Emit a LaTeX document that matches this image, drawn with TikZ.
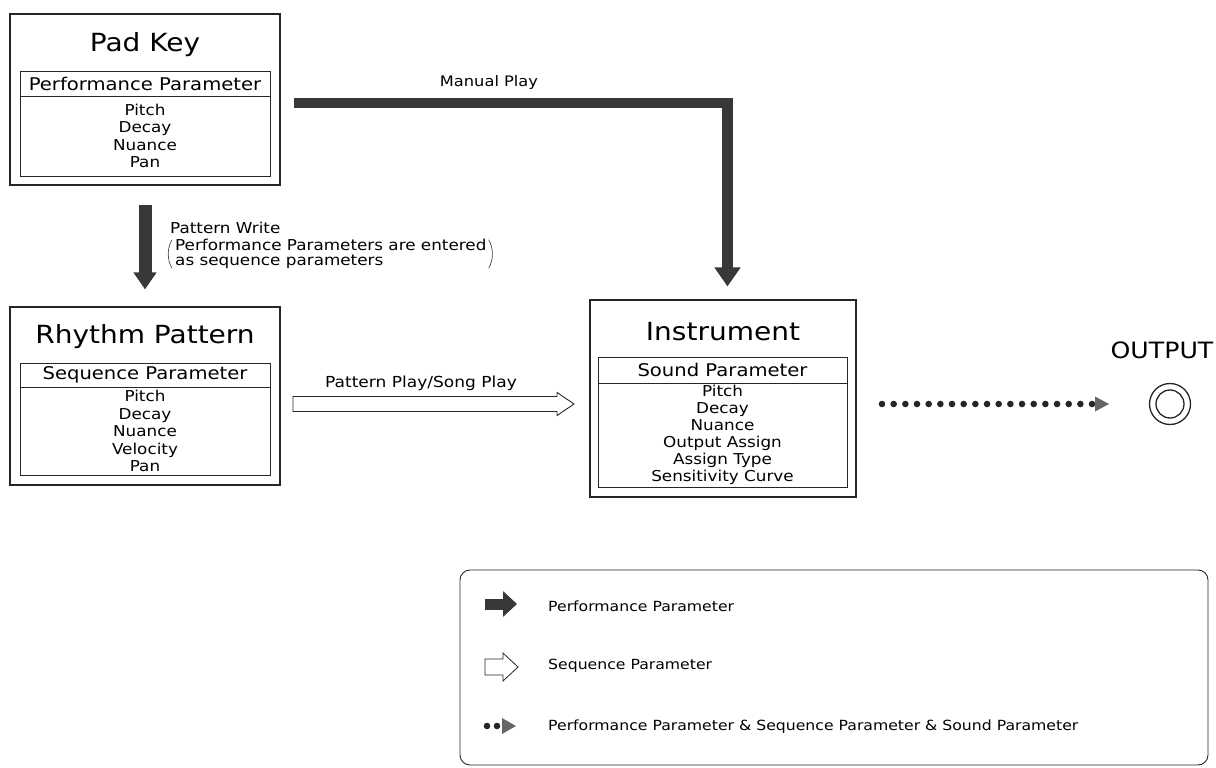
\documentclass[tikz,border=0pt]{standalone}
\usepackage{fontspec}
\setmainfont{DejaVu Sans}[FakeStretch=1.12]
\usetikzlibrary{arrows.meta}
\begin{document}
\begin{tikzpicture}[x=1pt,y=-1pt,
  outerbox/.style={draw=black!85, line width=1.1pt, inner sep=0pt},
  innerbox/.style={draw=black!85, line width=0.9pt, inner sep=0pt, minimum width=250pt},
  ttl/.style={font=\fontsize{25}{28}\selectfont, inner sep=0pt},
  hdr/.style={font=\fontsize{17.5}{20}\selectfont, inner sep=0pt},
  items/.style={font=\fontsize{15}{17.5}\selectfont, align=center, inner sep=0pt},
  lbl/.style={font=\fontsize{14.5}{16}\selectfont, inner sep=0pt},
  leg/.style={font=\fontsize{14}{16}\selectfont, inner sep=0pt, anchor=west},
  perfc/.style={black!78},
  hollow/.style={draw=black!85, line width=0.9pt, fill=white},
  dotc/.style={black!85},
  paren/.style={draw=black!80, line width=0.6pt}
]
\useasboundingbox (0,0) rectangle (1216,768);

% ---------- Pad Key ----------
\node[outerbox, minimum width=270pt, minimum height=171pt] (padkey) at (145,99.5) {};
\node[ttl] (padkeyT) at (145,45) {Pad Key};
\node[innerbox, minimum height=25pt] (padkeyH) at (145,83.5) {};
\node[hdr] (padkeyHT) at (padkeyH) {Performance Parameter};
\node[innerbox, minimum height=80pt] (padkeyB) at (145,136) {};
\node[items] (padkeyI) at (padkeyB) {Pitch\\Decay\\Nuance\\Pan};

% ---------- Rhythm Pattern ----------
\node[outerbox, minimum width=270pt, minimum height=178pt] (rhythm) at (145,396) {};
\node[ttl] (rhythmT) at (145,337) {Rhythm Pattern};
\node[innerbox, minimum height=24pt] (rhythmH) at (145,375) {};
\node[hdr] (rhythmHT) at (rhythmH) {Sequence Parameter};
\node[innerbox, minimum height=88pt] (rhythmB) at (145,431) {};
\node[items] (rhythmI) at (rhythmB) {Pitch\\Decay\\Nuance\\Velocity\\Pan};

% ---------- Instrument ----------
\node[outerbox, minimum width=266pt, minimum height=197pt] (inst) at (723,398.5) {};
\node[ttl] (instT) at (723,332) {Instrument};
\node[innerbox, minimum width=249pt, minimum height=26pt] (instH) at (722.5,370) {};
\node[hdr] (instHT) at (instH) {Sound Parameter};
\node[innerbox, minimum width=249pt, minimum height=104pt] (instB) at (722.5,435) {};
\node[items, font=\fontsize{15}{17}\selectfont] (instI) at (instB) {Pitch\\Decay\\Nuance\\Output Assign\\Assign Type\\Sensitivity Curve};

% ---------- Manual Play ----------
\coordinate (mpS) at (294,103);
\draw[perfc, line width=10.5pt, -{Triangle[length=19pt,width=25pt]}]
  (mpS) -| ([xshift=4.5pt,yshift=13pt]inst.north);
\node[lbl] (mplbl) at (489,82) {Manual Play};

% ---------- Pattern Write ----------
\draw[perfc, line width=13pt, -{Triangle[length=17pt,width=22pt]}]
  ([yshift=-19pt]padkey.south) -- ([yshift=17pt]rhythm.north);
\node[lbl, anchor=west, font=\fontsize{15}{16}\selectfont] (pwlbl) at (170,228) {Pattern Write};
\node[lbl, anchor=west, align=left, font=\fontsize{15}{15.5}\selectfont] (pwtxt) at (175,254)
  {Performance Parameters are entered\\as sequence parameters};
\draw[paren] ([xshift=-3pt,yshift=-1pt]pwtxt.north west) .. controls ([xshift=-8pt,yshift=-9pt]pwtxt.north west) and ([xshift=-8pt,yshift=9pt]pwtxt.south west) .. ([xshift=-3pt,yshift=1pt]pwtxt.south west);
\draw[paren] ([xshift=2pt,yshift=-1pt]pwtxt.north east) .. controls ([xshift=7pt,yshift=-9pt]pwtxt.north east) and ([xshift=7pt,yshift=9pt]pwtxt.south east) .. ([xshift=2pt,yshift=1pt]pwtxt.south east);

% ---------- Pattern Play / Song Play ----------
\coordinate (ppS) at (293,404);
\coordinate (ppE) at (574,404);
\draw[hollow] (ppS) ++(0,-7.5) -- ++(264,0) -- ++(0,-4) -- (ppE) -- ++(-17,11.5) -- ++(0,-4) -- ++(-264,0) -- cycle;
\node[lbl, font=\fontsize{15.2}{17}\selectfont] (pplbl) at (421,383) {Pattern Play/Song Play};

% ---------- Output ----------
\node[font=\fontsize{22.5}{26}\selectfont, inner sep=0pt] (outlbl) at (1162,350) {OUTPUT};
\node[circle, draw=black!85, line width=1.3pt, minimum size=41pt, inner sep=0pt] (outc) at (1170,404) {};
\node[circle, draw=black!85, line width=1.3pt, minimum size=28pt, inner sep=0pt] (outci) at (outc) {};
\coordinate (dS) at (882,404);
\coordinate (dE) at (1109,404);
\draw[dotc, line width=6.6pt, line cap=round, dash pattern=on 0pt off 11.67pt] (dS) -- ([xshift=-13pt]dE);
\fill[black!60] ([xshift=-14pt,yshift=7.5pt]dE) -- (dE) -- ([xshift=-14pt,yshift=-7.5pt]dE) -- cycle;

% ---------- Legend ----------
\node[draw=black!85, rounded corners=10pt, line width=0.9pt, minimum width=748pt, minimum height=195pt, inner sep=0pt] (legend) at (834,667.5) {};
\coordinate (l1a) at (485,604);
\coordinate (l1b) at (517,604);
\draw[perfc, line width=11pt, -{Triangle[length=14pt,width=25pt]}] (l1a) -- (l1b);
\node[leg] (leg1) at (548,606) {Performance Parameter};
\coordinate (l2a) at (485,667);
\coordinate (l2b) at (518,667);
\draw[hollow, line width=0.8pt] (l2a) ++(0,-8) -- ++(18,0) -- ++(0,-6) -- (l2b) -- ++(-15,14) -- ++(0,-6) -- ++(-18,0) -- cycle;
\node[leg] (leg2) at (548,666) {Sequence Parameter};
\coordinate (l3a) at (487,726);
\coordinate (l3b) at (516,726);
\fill[dotc] (l3a) circle (3.3);
\fill[dotc] ([xshift=10pt]l3a) circle (3.3);
\fill[black!60] ([xshift=-14pt,yshift=8pt]l3b) -- (l3b) -- ([xshift=-14pt,yshift=-8pt]l3b) -- cycle;
\node[leg] (leg3) at (548,727) {Performance Parameter \& Sequence Parameter \& Sound Parameter};
\end{tikzpicture}
\end{document}
